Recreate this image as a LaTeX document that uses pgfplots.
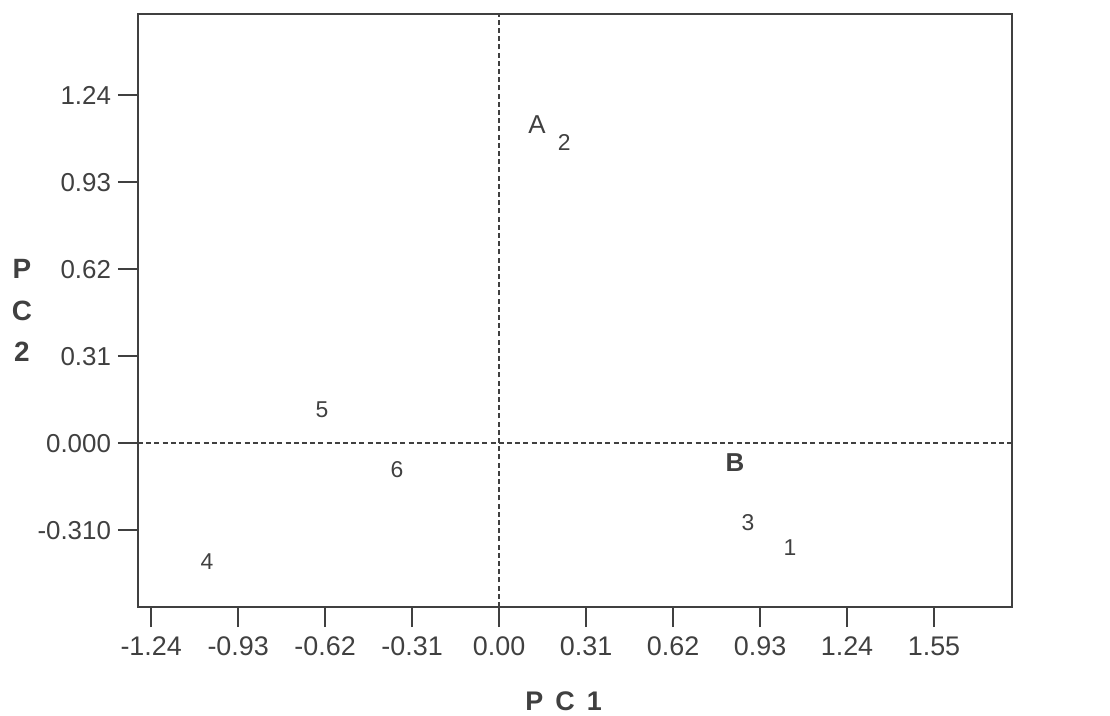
\documentclass[border=0pt]{standalone}
\usepackage{fontspec}
\setmainfont{Liberation Sans}
\usepackage{pgfplots}
\pgfplotsset{compat=1.18}
\definecolor{ink}{gray}{0.25}
\begin{document}
\begin{tikzpicture}
\path[use as bounding box] (-69bp,-54.5bp) rectangle (486bp,303.5bp);
\begin{axis}[
  scale only axis, width=437bp, height=296.5bp,
  at={(0,0)}, anchor=south west,
  xmin=-1.287, xmax=1.828, ymin=-0.584, ymax=1.529,
  axis line style={ink, line width=0.9pt},
  xtick={-1.24,-0.93,-0.62,-0.31,0,0.31,0.62,0.93,1.24,1.55},
  xticklabels={-1.24,-0.93,-0.62,-0.31,0.00,0.31,0.62,0.93,1.24,1.55},
  ytick={-0.31,0,0.31,0.62,0.93,1.24},
  yticklabels={-0.310,0.000,0.31,0.62,0.93,1.24},
  tick align=outside, tick pos=left,
  major tick length=10bp,
  tick style={ink, line width=0.9pt},
  yticklabel style={font=\fontsize{13}{15}\selectfont, text=ink},
  xticklabel style={font=\fontsize{13.5}{15}\selectfont, text=ink, yshift=-1.5bp},
  /pgf/number format/assume math mode=true,
  xlabel={P\hspace{0.45em}C\hspace{0.45em}1},
  xlabel style={at={(axis description cs:0.487,0)}, anchor=center, yshift=-47bp,
    font=\fontsize{13.5}{16}\selectfont\bfseries, text=ink},
  ylabel={P\\C\\2},
  ylabel style={rotate=-90, at={(axis description cs:0,0.5)}, anchor=center, xshift=-58bp,
    align=center, font=\fontsize{14}{21}\selectfont\bfseries, text=ink},
  clip=false,
]
\addplot[ink, dash pattern=on 2.5bp off 1.6bp, line width=0.9pt] coordinates {(0,-0.584) (0,1.529)};
\addplot[ink, dash pattern=on 2.5bp off 1.6bp, line width=0.9pt] coordinates {(-1.287,0) (1.828,0)};
% environment labels
\addplot[draw=none, mark=none, nodes near coords, point meta=explicit symbolic,
  every node near coord/.append style={anchor=center, inner sep=0pt, font=\fontsize{13}{15}\selectfont, text=ink}]
  table[meta=lab] {
x y lab
0.135 1.135 A
};
\addplot[draw=none, mark=none, nodes near coords, point meta=explicit symbolic,
  every node near coord/.append style={anchor=center, inner sep=0pt, font=\fontsize{13}{15}\selectfont\bfseries, text=ink}]
  table[meta=lab] {
x y lab
0.841 -0.071 B
};
% genotype labels
\addplot[draw=none, mark=none, nodes near coords, point meta=explicit symbolic,
  every node near coord/.append style={anchor=center, inner sep=0pt, font=\fontsize{11.5}{13}\selectfont, text=ink}]
  table[meta=lab] {
x y lab
1.037 -0.374 1
0.232 1.070 2
0.887 -0.282 3
-1.041 -0.424 4
-0.631 0.118 5
-0.364 -0.096 6
};
\end{axis}
\end{tikzpicture}
\end{document}
